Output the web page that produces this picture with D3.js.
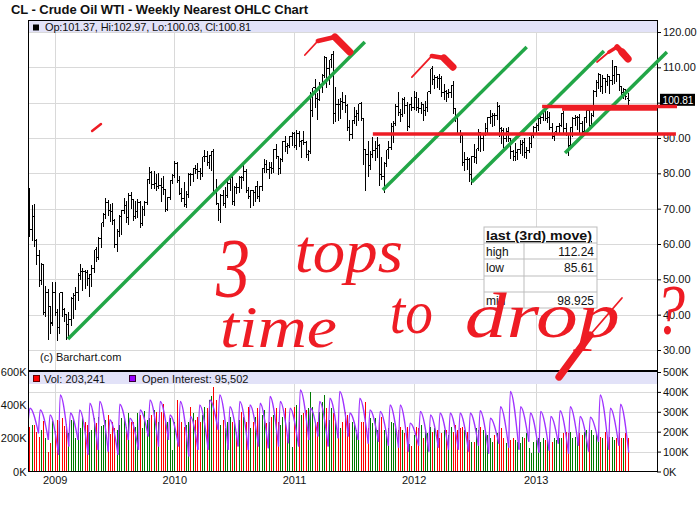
<!DOCTYPE html>
<html>
  <head>
    <meta charset="utf-8">
    <style>
    body {
      margin: 0px;
      background: #fff;
    }
    svg text {
      font-family: "Liberation Sans", Arial, sans-serif;
    }
    svg text.note {
      font-family: "Liberation Serif", "DejaVu Serif", serif;
      font-style: italic;
    }
    </style>
  </head>
  <body>
    <div id="elm"></div>

    <script src="https://cdn.jsdelivr.net/npm/d3@7/dist/d3.min.js"></script>
    <script>

    'use strict';

    // weekly bars, week of Mon 2008-10-20 through week of Mon 2013-10-14
    var opens = [
      71.5,64.2,67.8,61.0,57.0,49.9,54.4,40.8,46.3,42.4,
      37.8,46.3,40.8,36.5,46.3,41.7,40.2,37.5,38.9,44.8,
      45.5,46.3,51.1,52.4,52.5,52.2,50.3,51.6,53.2,58.6,
      56.3,61.7,66.3,68.4,72.0,69.5,69.2,66.7,59.9,63.6,
      68.0,69.5,70.9,67.5,73.9,72.7,68.0,69.3,72.0,66.0,
      70.0,71.8,78.5,80.5,77.0,77.4,76.4,76.7,76.0,75.5,
      69.9,73.4,78.0,79.4,82.8,78.0,74.5,72.9,71.2,74.1,
      79.8,79.7,81.5,81.2,80.7,80.0,84.9,84.9,83.2,85.1,
      86.2,75.1,71.6,70.0,74.0,71.5,73.8,77.2,78.9,72.1,
      76.1,76.0,79.0,78.9,80.7,75.4,73.5,75.2,74.6,76.5,
      73.7,76.5,81.6,82.7,81.3,81.7,81.4,87.0,84.9,81.5,
      84.0,89.2,87.8,88.0,90.6,91.4,88.0,91.5,89.1,89.3,
      89.0,85.6,86.2,97.9,104.4,101.2,101.1,105.4,107.9,112.8,
      109.7,112.3,113.9,97.2,99.7,99.5,100.6,100.2,99.3,93.0,
      91.2,95.0,96.2,97.2,99.9,95.7,86.9,85.4,82.3,85.4,
      86.5,87.2,87.9,79.9,79.2,82.9,86.8,87.4,93.3,94.3,
      99.0,97.4,96.8,101.0,99.4,93.5,99.7,98.8,101.6,98.7,
      98.5,99.6,97.8,98.7,103.2,109.8,106.7,107.4,107.1,106.9,
      103.0,103.3,102.8,103.1,104.9,98.5,96.1,91.5,90.9,83.2,
      84.1,84.0,79.8,85.0,84.5,87.1,91.8,90.1,91.4,92.9,
      96.0,96.2,96.5,96.4,99.0,92.9,92.2,89.9,91.9,90.1,
      86.3,84.9,86.1,86.9,88.3,88.9,85.9,86.7,88.7,90.8,
      93.1,93.6,95.6,95.9,97.8,95.7,95.9,93.1,90.7,91.9,
      93.5,93.7,97.2,92.7,91.3,88.0,93.0,95.6,96.0,96.0,
      94.2,92.0,96.0,97.8,93.7,96.6,103.2,105.9,108.0,104.7,
      106.9,106.0,107.5,106.4,107.7,110.5,108.2,104.7,102.9,103.8,
      101.37
    ];
    var highs = [
      76.1,71.2,71.7,61.8,58.5,55.0,54.5,48.5,47.5,42.5,
      49.6,49.5,42.0,46.5,46.5,42.3,40.5,41.0,45.2,46.5,
      48.2,52.2,54.7,53.5,53.0,52.8,51.8,54.2,58.7,59.5,
      62.3,66.3,69.0,73.2,72.8,71.5,72.0,67.3,64.5,68.4,
      69.8,73.3,72.4,74.7,75.0,73.0,72.5,73.0,72.5,71.0,
      72.5,78.7,82.0,80.9,81.0,80.0,80.5,79.0,79.5,75.9,
      73.6,78.3,80.0,83.9,83.5,79.5,76.0,77.8,75.3,80.5,
      80.5,81.8,82.5,83.2,81.7,85.0,87.0,86.5,85.5,86.6,
      87.1,78.8,72.0,74.5,75.5,76.5,78.0,79.0,79.4,76.7,
      77.6,79.5,79.5,83.0,81.5,76.5,75.5,75.6,76.8,78.0,
      76.8,81.9,84.2,84.0,83.5,83.5,87.2,88.6,85.0,84.5,
      89.5,90.8,89.0,90.8,92.1,91.9,92.6,92.2,89.8,92.2,
      89.5,87.0,103.4,104.5,106.9,103.0,106.2,108.5,113.5,113.0,
      112.5,114.0,114.8,104.6,101.2,101.5,103.4,102.4,100.0,95.5,
      95.5,99.0,98.2,100.0,100.6,95.9,87.0,89.3,86.6,90.5,
      89.5,90.5,88.7,84.9,83.5,87.0,89.5,94.6,95.0,99.8,
      103.4,98.5,101.5,101.8,100.5,99.8,101.8,103.7,103.2,101.5,
      100.5,100.0,100.7,103.4,109.9,110.6,108.2,107.7,108.3,107.8,
      105.5,104.0,104.2,105.2,106.4,98.6,96.2,92.6,91.0,86.2,
      85.0,84.7,85.2,88.5,87.3,92.9,92.0,91.8,94.6,96.3,
      98.3,97.3,97.5,100.4,99.5,93.5,93.2,93.0,93.5,90.3,
      87.0,89.0,87.3,89.6,89.7,90.3,87.8,90.5,91.0,93.6,
      94.5,96.0,96.9,98.2,97.9,97.9,97.7,94.4,92.1,93.6,
      94.5,97.3,97.8,94.6,91.5,93.5,96.2,96.9,96.5,97.0,
      95.2,96.1,98.5,99.3,97.4,104.0,106.6,108.7,108.5,108.0,
      107.0,108.3,107.8,112.24,110.7,110.7,108.4,105.0,104.5,104.0,
      102.97
    ];
    var lows = [
      62.5,61.3,59.7,54.7,48.3,49.0,40.5,40.0,33.4,35.1,
      37.5,40.2,33.2,35.0,40.0,38.5,33.5,34.0,37.5,39.4,
      42.0,44.5,50.5,47.4,47.8,48.6,45.7,48.5,52.5,55.5,
      56.0,59.5,65.5,67.7,68.5,66.7,66.0,59.5,58.3,62.5,
      63.0,69.0,66.5,66.0,70.5,67.0,67.5,68.0,65.0,65.7,
      68.5,71.5,77.5,76.0,76.0,75.6,76.0,72.4,74.5,69.5,
      69.8,72.9,77.5,79.3,77.8,74.3,72.4,71.0,70.8,73.5,
      77.0,78.2,80.5,79.0,78.7,79.5,83.7,82.5,81.7,81.2,
      74.8,71.5,67.1,66.5,71.2,70.8,73.5,75.5,71.6,71.4,
      74.8,75.0,76.0,78.5,75.0,73.2,70.8,71.3,72.5,73.3,
      72.5,75.5,80.8,80.8,79.0,80.5,80.8,84.5,80.0,80.5,
      83.8,86.6,86.1,87.8,88.2,87.6,87.1,88.0,84.9,88.5,
      84.8,84.0,86.0,96.5,99.0,95.6,101.0,103.4,107.5,104.6,
      105.5,110.5,94.6,95.0,95.3,96.0,98.5,97.6,92.6,89.6,
      90.2,94.6,94.0,95.5,95.5,82.9,75.7,79.5,81.6,85.0,
      84.0,85.0,77.1,78.6,74.9,82.4,84.7,87.2,89.2,94.0,
      96.7,95.1,96.5,97.3,92.5,93.3,98.1,98.5,98.2,97.6,
      97.5,95.4,96.7,98.0,103.0,105.5,104.5,104.7,104.2,102.2,
      101.2,100.7,101.8,102.0,97.5,95.2,91.4,89.2,82.5,81.2,
      81.6,78.2,77.3,83.5,83.1,87.0,86.5,86.8,91.0,91.5,
      94.6,93.8,94.0,95.7,90.8,88.9,87.7,89.5,89.5,84.6,
      84.0,84.1,84.3,86.0,85.6,84.9,84.6,86.3,87.7,90.6,
      91.4,92.5,94.5,95.5,95.5,94.9,92.8,90.3,89.8,91.4,
      91.8,93.6,92.0,91.0,85.61,87.5,90.8,94.0,92.7,91.6,
      91.5,91.2,94.9,93.4,93.5,96.5,102.2,104.3,103.7,103.0,
      103.2,105.4,103.1,105.5,105.8,106.3,104.0,101.9,101.6,101.3,
      100.03
    ];
    var closes = [
      64.2,67.8,61.0,57.0,49.9,54.4,40.8,46.3,42.4,37.7,
      46.3,40.8,36.5,46.3,41.7,40.2,37.5,38.9,44.8,45.5,
      46.3,51.1,52.4,52.5,52.2,50.3,51.6,53.2,58.6,56.3,
      61.7,66.3,68.4,72.0,69.5,69.2,66.7,59.9,63.6,68.0,
      69.5,70.9,67.5,73.9,72.7,68.0,69.3,72.0,66.0,70.0,
      71.8,78.5,80.5,77.0,77.4,76.4,76.7,76.0,75.5,69.9,
      73.4,78.0,79.4,82.8,78.0,74.5,72.9,71.2,74.1,79.8,
      79.7,81.5,81.2,80.7,80.0,84.9,84.9,83.2,85.1,86.2,
      75.1,71.6,70.0,74.0,71.5,73.8,77.2,78.9,72.1,76.1,
      76.0,79.0,78.9,80.7,75.4,73.5,75.2,74.6,76.5,73.7,
      76.5,81.6,82.7,81.3,81.7,81.4,87.0,84.9,81.5,84.0,
      89.2,87.8,88.0,90.6,91.4,88.0,91.5,89.1,89.3,89.0,
      85.6,86.2,97.9,104.4,101.2,101.1,105.4,107.9,112.8,109.7,
      112.3,113.9,97.2,99.7,99.5,100.6,100.2,99.3,93.0,91.2,
      95.0,96.2,97.2,99.9,95.7,86.9,85.4,82.3,85.4,86.5,
      87.2,87.9,79.9,79.2,82.9,86.8,87.4,93.3,94.3,99.0,
      97.4,96.8,101.0,99.4,93.5,99.7,98.8,101.6,98.7,98.5,
      99.6,97.8,98.7,103.2,109.8,106.7,107.4,107.1,106.9,103.0,
      103.3,102.8,103.1,104.9,98.5,96.1,91.5,90.9,83.2,84.1,
      84.0,79.8,85.0,84.5,87.1,91.8,90.1,91.4,92.9,96.0,
      96.2,96.5,96.4,99.0,92.9,92.2,89.9,91.9,90.1,86.3,
      84.9,86.1,86.9,88.3,88.9,85.9,86.7,88.7,90.8,93.1,
      93.6,95.6,95.9,97.8,95.7,95.9,93.1,90.7,91.9,93.5,
      93.7,97.2,92.7,91.3,88.0,93.0,95.6,96.0,96.0,94.2,
      92.0,96.0,97.8,93.7,96.6,103.2,105.9,108.0,104.7,106.9,
      106.0,107.5,106.4,107.7,110.5,108.2,104.7,102.9,103.8,102.0,
      100.81
    ];
    // weekly volume, thousands of contracts
    var volumes = [
      270,280,280,240,210,250,305,205,120,170,
      305,245,310,305,320,275,285,230,310,315,200,235,260,330,300,280,240,250,320,290,
      330,275,280,310,340,225,300,260,250,280,320,330,270,355,300,300,270,350,340,260,
      365,310,320,340,370,360,300,360,410,310,300,320,
      130,300,430,340,300,270,280,300,390,350,310,330,300,340,390,380,430,455,510,430,
      300,280,310,260,300,330,300,290,240,310,360,330,300,390,260,300,330,380,350,340,
      370,290,300,330,340,380,300,280,330,380,200,300,150,
      390,400,380,340,350,370,380,480,390,300,300,360,420,460,380,310,380,350,300,280,
      260,300,360,340,290,300,300,250,280,300,300,418,260,320,290,320,250,300,330,250,
      230,260,300,290,270,250,270,250,230,270,166,154,
      220,270,260,280,200,250,230,270,240,260,250,200,230,250,250,220,270,240,280,250,
      260,270,250,240,190,180,180,260,250,270,250,230,220,200,180,220,230,240,260,200,
      170,180,190,200,190,180,170,210,200,230,140,110,
      180,190,200,180,200,190,200,190,180,200,190,200,200,230,240,230,240,200,210,190,
      230,220,240,250,230,250,220,230,200,210,200,240,190,210,210,190,200,230,200,200,
      230,203
    ];
    // open interest (thousands): low at each monthly roll (17th) and high just after (22nd)
    var oiTroughs = [
      260,192,159,
      84,126,159,84,109,100,84,159,109,176,126,159,
      126,76,109,109,210,109,126,109,126,117,126,142,
      126,159,176,126,167,176,159,140,150,130,120,100,
      130,100,120,110,110,100,130,90,140,120,110,150,
      95,105,140,90,130,100,150,110,130,95.5
    ];
    var oiPeaks = [
      318,310,285,
      385,294,310,343,352,260,338,268,310,360,352,285,
      352,277,335,360,385,326,352,335,343,377,352,318,
      410,318,352,368,402,294,368,310,302,335,335,243,
      302,285,294,294,294,294,306,268,326,402,326,294,
      302,277,306,326,277,273,385,318,338
    ];
    var priceTicks = [30, 40, 50, 60, 70, 80, 90, 100, 110, 120];
    var volTicks = [0, 200, 400, 600];
    var oiTicks = [0, 100, 200, 300, 400, 500];
    var yearTicks = ['2009-01-05', '2010-01-04', '2011-01-03', '2012-01-02', '2013-01-07'];
    var lastBar = {op: '101.37', hi: '102.97', lo: '100.03', cl: '100.81', vol: '203,241', oi: '95,502'};
    var tableTitle = 'last (3rd) move)';
    var tableLabels = ['high', 'low', '', 'min'];
    var tableValues = ['112.24', '85.61', '', '98.925'];

    // hand drawn notes, in [decimal year, price]
    var greenLines = [
      [[2009.122, 33.1], [2011.595, 117.17]],
      [[2011.745, 75.3], [2012.944, 115.75]],
      [[2012.486, 77.55], [2013.585, 114.62]],
      [[2013.261, 85.75], [2014.11, 114.34]]
    ];
    var redLevels = [
      [[2011.662, 91.13], [2014.185, 91.13]],
      [[2013.07, 98.925], [2014.194, 98.925]],
      [[2013.236, 98.2], [2014.027, 98.2]]
    ];
    var topMarks = [
      [[2011.096, 113.49], [2011.204, 117.45], [2011.346, 118.58], [2011.47, 114.34]],
      [[2011.987, 107.26], [2012.154, 113.21], [2012.254, 112.64], [2012.329, 110.09]],
      [[2013.527, 111.51], [2013.627, 114.34], [2013.694, 115.75], [2013.735, 114.34], [2013.785, 112.36]],
      [[2009.323, 91.98], [2009.397, 93.96]],
      [[2013.735, 44.72], [2013.469, 34.24], [2013.211, 22.36]]
    ];
    var noteWords = ['3', 'tops', 'time', 'to', 'drop', '?'];
    var noteYears = [2010.355, 2011.0125, 2010.388, 2011.8035, 2012.428, 2014.01];
    var notePrices = [44.9, 52.2, 30.85, 34.81, 33.68, 34.53];
    var noteSize = [84, 62, 60, 62, 64, 72];
    var noteLen = [34, 108, 117, 43, 155, 30];

    var L = 28, R = 657, PT = 21, PB = 371, VT = 372, VB = 471.5;

    var x = d3.scaleTime().domain([new Date(2008, 9, 16), new Date(2014, 0, 11)]).range([L, R]);
    var yP = d3.scaleLinear().domain([30, 120]).range([350, 32]);
    var yV = d3.scaleLinear().domain([0, 600]).range([VB, VT]);
    var yOI = d3.scaleLinear().domain([0, 500]).range([VB, VT]);

    var weeks = d3.timeMonday.range(new Date(2008, 9, 20), new Date(2013, 9, 15));
    var yearDates = yearTicks.map(d3.timeParse('%Y-%m-%d'));
    function fy(v) {
      var y = Math.floor(v);
      return new Date(+new Date(y, 0, 1) + (v - y) * 365.25 * 864e5);
    }
    function px(d) { return Math.round(x(d)) + 0.5; }
    function py(v) { return Math.round(yP(v)) + 0.5; }

    var bars = weeks.map(function(d, i) {
      return {d: d, o: opens[i], h: highs[i], l: lows[i], c: closes[i], v: volumes[i]};
    }).filter(function(b) { return b.h != null; });

    var svg = d3.select('#elm').append('svg')
      .attr('width', 700).attr('height', 512)
      .style('display', 'block').style('background', '#fff');

    svg.append('text').attr('x', 11).attr('y', 14)
      .attr('font-size', 13).attr('font-weight', 'bold').attr('fill', '#111')
      .attr('textLength', 297).attr('lengthAdjust', 'spacing')
      .text('CL - Crude Oil WTI - Weekly Nearest OHLC Chart');

    // grid
    var grid = svg.append('g').attr('stroke', '#d9d9d9').attr('shape-rendering', 'crispEdges');
    grid.selectAll('.gx').data(yearDates).join('line')
      .attr('x1', px).attr('x2', px).attr('y1', PT).attr('y2', VB);
    grid.selectAll('.gp').data(priceTicks).join('line')
      .attr('x1', L).attr('x2', R).attr('y1', py).attr('y2', py);
    grid.selectAll('.gv').data(oiTicks.slice(1, 5)).join('line')
      .attr('x1', L).attr('x2', R)
      .attr('y1', function(d) { return Math.round(yOI(d)) + 0.5; })
      .attr('y2', function(d) { return Math.round(yOI(d)) + 0.5; });

    // header bands
    svg.append('rect').attr('x', L + 1).attr('y', PT).attr('width', R - L - 1).attr('height', 11).attr('fill', '#e2e2f8');
    svg.append('rect').attr('x', L + 1).attr('y', VT).attr('width', R - L - 1).attr('height', 12).attr('fill', '#e2e2f8');
    svg.append('rect').attr('x', 33).attr('y', 24.5).attr('width', 6).attr('height', 6).attr('fill', '#000');
    svg.append('text').attr('x', 45).attr('y', 31).attr('font-size', 11).attr('fill', '#111')
      .attr('textLength', 206).attr('lengthAdjust', 'spacing')
      .text('Op:' + lastBar.op + ', Hi:' + lastBar.hi + ', Lo:' + lastBar.lo + ', Cl:' + lastBar.cl);
    svg.append('rect').attr('x', 33.5).attr('y', 375.5).attr('width', 6).attr('height', 6).attr('fill', '#ff0000').attr('stroke', '#600');
    svg.append('text').attr('x', 44).attr('y', 382.5).attr('font-size', 11).attr('fill', '#111')
      .text('Vol: ' + lastBar.vol);
    svg.append('rect').attr('x', 129.5).attr('y', 375.5).attr('width', 6).attr('height', 6).attr('fill', '#9900ff').attr('stroke', '#303');
    svg.append('text').attr('x', 142).attr('y', 382.5).attr('font-size', 11).attr('fill', '#111')
      .text('Open Interest: ' + lastBar.oi);

    // OHLC bars
    var ohlc = svg.append('g').attr('stroke', '#000').attr('stroke-width', 1).attr('shape-rendering', 'crispEdges');
    ohlc.selectAll('.hl').data(bars).join('line')
      .attr('x1', function(b) { return px(b.d); }).attr('x2', function(b) { return px(b.d); })
      .attr('y1', function(b) { return py(b.h); }).attr('y2', function(b) { return py(b.l) + 1; });
    ohlc.selectAll('.op').data(bars).join('line')
      .attr('x1', function(b) { return px(b.d) - 1.5; }).attr('x2', function(b) { return px(b.d); })
      .attr('y1', function(b) { return py(b.o); }).attr('y2', function(b) { return py(b.o); });
    ohlc.selectAll('.cl').data(bars).join('line')
      .attr('x1', function(b) { return px(b.d); }).attr('x2', function(b) { return px(b.d) + 1.5; })
      .attr('y1', function(b) { return py(b.c); }).attr('y2', function(b) { return py(b.c); });

    // volume + open interest
    svg.append('clipPath').attr('id', 'volClip').append('rect')
      .attr('x', L).attr('y', VT).attr('width', R - L).attr('height', VB - VT);
    var vol = svg.append('g').attr('clip-path', 'url(#volClip)');
    vol.selectAll('rect').data(bars).join('rect')
      .attr('x', function(b) { return Math.round(x(b.d)); }).attr('width', 1)
      .attr('y', function(b) { return yV(b.v); })
      .attr('height', function(b) { return VB - yV(b.v); })
      .attr('fill', function(b) { return b.c >= b.o ? '#007a00' : '#ff0000'; })
      .attr('shape-rendering', 'crispEdges');

    var oiArcs = oiPeaks.map(function(p, k) {
      return [[new Date(2008, 9 + k, 17), oiTroughs[k]],
              [new Date(2008, 9 + k, 22), p],
              [new Date(2008, 10 + k, 17), oiTroughs[k + 1]]];
    });
    var oiLine = d3.line()
      .x(function(d) { return x(d[0]); })
      .y(function(d) { return yOI(d[1]); })
      .curve(d3.curveMonotoneX);
    vol.selectAll('path').data(oiArcs).join('path')
      .attr('d', oiLine).attr('fill', 'none')
      .attr('stroke', '#a033ff').attr('stroke-width', 1.3);

    // frames
    var frame = svg.append('g').attr('fill', 'none').attr('stroke', '#000').attr('shape-rendering', 'crispEdges');
    frame.append('rect').attr('x', L + 0.5).attr('y', PT - 0.5).attr('width', R - L).attr('height', VB - PT + 0.5);
    frame.append('line').attr('x1', L).attr('x2', R + 1).attr('y1', PB).attr('y2', PB).attr('stroke-width', 2);

    // axes
    function styleAxis(g) {
      g.attr('font-family', '"Liberation Sans", Arial, sans-serif').attr('font-size', 11);
      g.select('.domain').remove();
      g.selectAll('text').attr('fill', '#111');
    }
    svg.append('g').attr('transform', 'translate(' + R + ',0)')
      .call(d3.axisRight(yP).tickValues(priceTicks).tickSize(4).tickPadding(2)
        .tickFormat(function(d) { return String(d) === lastBar.cl.split('.')[0] ? '' : d3.format('.2f')(d); }))
      .call(styleAxis);
    svg.append('g').attr('transform', 'translate(' + R + ',0)')
      .call(d3.axisRight(yOI).tickValues(oiTicks).tickSize(4).tickPadding(2).tickFormat(function(d) { return d + 'K'; }))
      .call(styleAxis);
    svg.append('g').attr('transform', 'translate(' + L + ',0)')
      .call(d3.axisLeft(yV).tickValues(volTicks).tickSize(0).tickPadding(1.5).tickFormat(function(d) { return d + 'K'; }))
      .call(styleAxis);
    svg.append('g').attr('transform', 'translate(0,' + VB + ')')
      .call(d3.axisBottom(x).tickValues(yearDates).tickSize(0).tickPadding(5).tickFormat(d3.timeFormat('%Y')))
      .call(styleAxis);

    svg.append('text').attr('x', 40).attr('y', 361).attr('font-size', 11).attr('fill', '#111')
      .text('(c) Barchart.com');

    // last price tag
    var tagY = yP(+lastBar.cl);
    svg.append('rect').attr('x', 660).attr('y', tagY - 6).attr('width', 35).attr('height', 12).attr('fill', '#000');
    svg.append('text').attr('x', 662.5).attr('y', tagY + 4.2).attr('font-size', 11).attr('fill', '#fff')
      .attr('textLength', 31).attr('lengthAdjust', 'spacingAndGlyphs')
      .text(lastBar.cl);

    // table
    var tb = svg.append('g').attr('transform', 'translate(484,227)');
    tb.append('rect').attr('width', 113).attr('height', 81).attr('fill', '#fff').attr('stroke', '#bdbdbd');
    tb.selectAll('.hr').data([16, 32, 49, 65]).join('line')
      .attr('x1', 0).attr('x2', 113).attr('y1', function(d) { return d; }).attr('y2', function(d) { return d; })
      .attr('stroke', '#bdbdbd');
    tb.append('line').attr('x1', 40).attr('x2', 40).attr('y1', 16).attr('y2', 81).attr('stroke', '#bdbdbd');
    tb.append('text').attr('x', 2).attr('y', 13).attr('font-size', 13).attr('font-weight', 'bold')
      .attr('text-decoration', 'underline').attr('fill', '#111')
      .attr('textLength', 106).attr('lengthAdjust', 'spacingAndGlyphs').text(tableTitle);
    tb.selectAll('.lb').data(tableLabels).join('text')
      .attr('x', 2).attr('y', function(d, i) { return 29 + i * 16.3; })
      .attr('font-size', 12).attr('fill', '#111').text(function(d) { return d; });
    tb.selectAll('.vl').data(tableValues).join('text')
      .attr('x', 110).attr('y', function(d, i) { return 29 + i * 16.3; }).attr('text-anchor', 'end')
      .attr('font-size', 12).attr('fill', '#111').text(function(d) { return d; });

    // hand drawn notes
    var line = d3.line().x(function(d) { return x(fy(d[0])); }).y(function(d) { return yP(d[1]); });
    svg.append('g').selectAll('path').data(greenLines).join('path')
      .attr('d', line).attr('stroke', '#22a647').attr('stroke-width', 3.5).attr('fill', 'none');
    svg.append('g').selectAll('path').data(redLevels).join('path')
      .attr('d', line).attr('stroke', '#ee1c24').attr('stroke-width', 3.5).attr('fill', 'none');

    var strokes = [];
    topMarks.forEach(function(m) {
      for (var j = 0; j < m.length - 1; j++) {
        strokes.push({seg: [m[j], m[j + 1]], w: m.length > 2 ? 1.8 + 5.5 * j / (m.length - 2) : 2.5});
      }
    });
    svg.append('g').selectAll('path').data(strokes).join('path')
      .attr('d', function(s) { return line(s.seg); })
      .attr('stroke', '#ee1c24').attr('stroke-width', function(s) { return s.w; })
      .attr('stroke-linecap', 'round').attr('fill', 'none');

    svg.append('g').selectAll('text').data(noteWords).join('text')
      .attr('class', 'note')
      .attr('x', function(d, i) { return x(fy(noteYears[i])); })
      .attr('y', function(d, i) { return yP(notePrices[i]); })
      .attr('font-size', function(d, i) { return noteSize[i]; })
      .attr('textLength', function(d, i) { return noteLen[i]; })
      .attr('lengthAdjust', 'spacingAndGlyphs')
      .attr('fill', '#ee1c24')
      .text(function(d) { return d; });

    </script>
  </body>
</html>
